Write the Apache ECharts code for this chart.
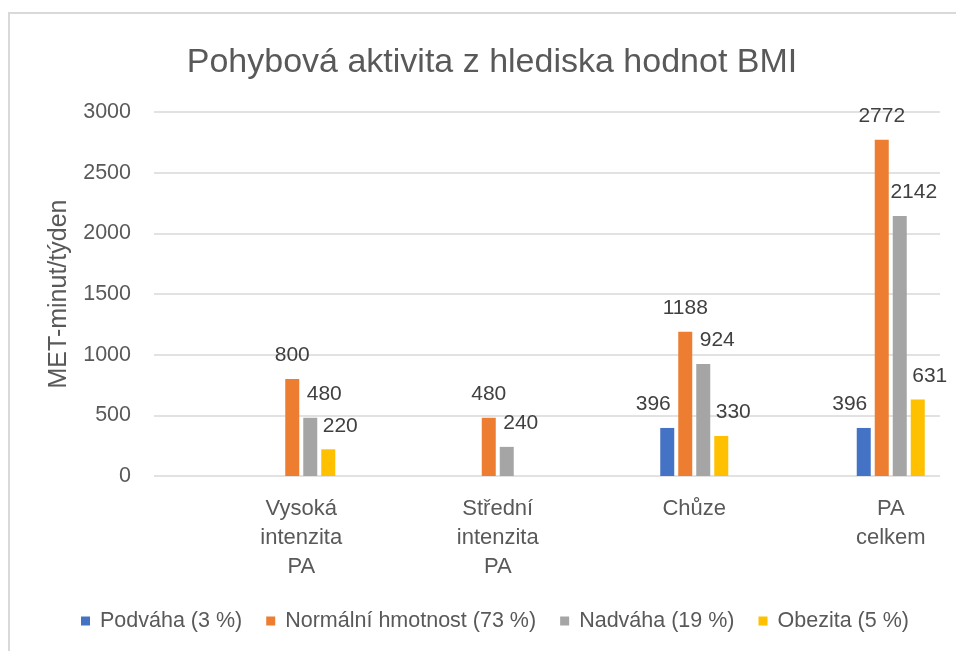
<!DOCTYPE html>
<html>
<head>
<meta charset="utf-8">
<script src="https://cdn.jsdelivr.net/npm/echarts@6/dist/echarts.min.js"></script>
<style>
html,body{margin:0;padding:0;background:#fff;}
#chart{width:956px;height:651px;}
</style>
</head>
<body>
<div id="chart"></div>
<script>
var categories = ['Vysoká\nintenzita\nPA', 'Střední\nintenzita\nPA', 'Chůze', 'PA\ncelkem'];
var seriesNames = ['Podváha (3 %)', 'Normální hmotnost (73 %)', 'Nadváha (19 %)', 'Obezita (5 %)'];
var podvaha = [null, null, 396, 396];
var normalni = [800, 480, 1188, 2772];
var nadvaha = [480, 240, 924, 2142];
var obezita = [220, null, 330, 631];
var yTicks = [0, 500, 1000, 1500, 2000, 2500, 3000];

var colors = ['#4472C4', '#ED7D31', '#A5A5A5', '#FFC000'];
var labelDx = [-14, 0, 14, 12];
var FONT = '"Liberation Sans", Arial, sans-serif';
var values = [podvaha, normalni, nadvaha, obezita];

var chart = echarts.init(document.getElementById('chart'), null, {renderer: 'canvas'});

var series = values.map(function (arr, i) {
  return {
    name: seriesNames[i],
    type: 'bar',
    xAxisIndex: 1,
    yAxisIndex: 1,
    data: arr,
    barWidth: 14,
    barGap: '28.6%',
    itemStyle: {color: colors[i]},
    label: {
      show: true,
      position: 'top',
      distance: 13,
      offset: [labelDx[i], 0],
      color: '#404040',
      fontSize: 21,
      fontFamily: FONT
    },
    emphasis: {disabled: true},
    animation: false
  };
});

var option = {
  animation: false,
  backgroundColor: '#ffffff',
  textStyle: {fontFamily: FONT},
  graphic: [{
    type: 'rect',
    shape: {x: 9, y: 13, width: 1000, height: 700},
    style: {fill: null, stroke: '#d9d9d9', lineWidth: 2},
    silent: true
  }],
  title: {
    text: 'Pohybová aktivita z hlediska hodnot BMI',
    left: 487,
    textAlign: 'center',
    top: 41,
    textStyle: {fontSize: 34, fontWeight: 'normal', color: '#595959', fontFamily: FONT}
  },
  legend: {
    data: seriesNames,
    left: 81,
    top: 610,
    padding: 0,
    icon: 'rect',
    itemWidth: 9,
    itemHeight: 9,
    itemGap: 24,
    selectedMode: false,
    textStyle: {fontSize: 21.5, color: '#595959', fontFamily: FONT, padding: [0, 0, 0, 5]}
  },
  grid: [
    {left: 154, width: 786, top: 112, height: 364, outerBoundsMode: 'none'},
    {left: 203, width: 786, top: 112, height: 364, outerBoundsMode: 'none'}
  ],
  xAxis: [
    {gridIndex: 0, type: 'category', data: categories, show: false},
    {
      gridIndex: 1, type: 'category', data: categories,
      axisLine: {show: false}, axisTick: {show: false},
      axisLabel: {fontSize: 22, lineHeight: 29, color: '#595959', margin: 18, fontFamily: FONT, interval: 0}
    }
  ],
  yAxis: [
    {
      gridIndex: 0, type: 'value',
      min: yTicks[0], max: yTicks[yTicks.length - 1], interval: yTicks[1] - yTicks[0],
      axisLine: {show: false}, axisTick: {show: false},
      axisLabel: {fontSize: 21.5, color: '#595959', margin: 23, fontFamily: FONT,
        formatter: function (v) { return String(v); }},
      splitLine: {lineStyle: {color: '#d9d9d9', width: 1.5}},
      name: 'MET-minut/týden',
      nameLocation: 'middle',
      nameGap: 82,
      nameTextStyle: {fontSize: 25, color: '#595959', fontFamily: FONT}
    },
    {
      gridIndex: 1, type: 'value',
      min: yTicks[0], max: yTicks[yTicks.length - 1], interval: yTicks[1] - yTicks[0],
      show: false
    }
  ],
  series: series
};

chart.setOption(option);
</script>
</body>
</html>
